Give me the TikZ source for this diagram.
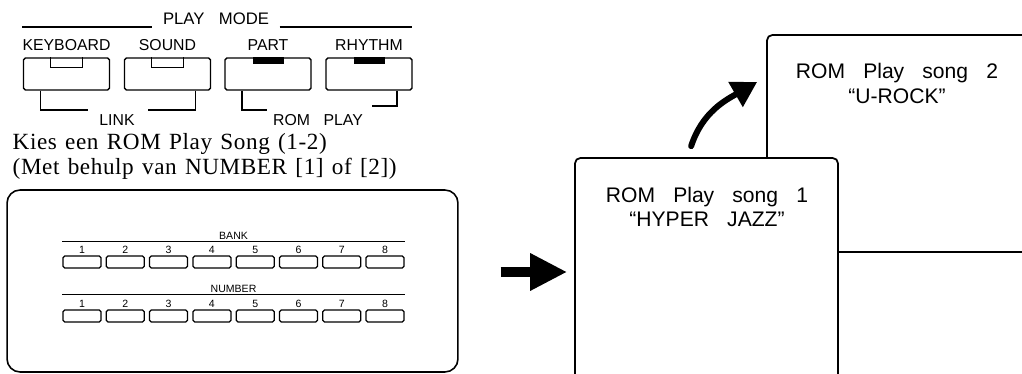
\documentclass[tikz,border=0pt]{standalone}
\usepackage{fontspec}
\setmainfont{Liberation Serif}
\newfontfamily\dutchfont[LetterSpace=2.5,WordSpace=1.3]{Liberation Serif}
\newfontfamily\panelfont[WordSpace=1.15]{Liberation Sans}
\newfontfamily\lcdfont[WordSpace=3.1]{Liberation Sans}
\usetikzlibrary{calc,positioning,arrows.meta}
\tikzset{
  modebtn/.style   = {draw, line width=0.8pt, rounded corners=1pt,
                      minimum width=1.72cm, minimum height=0.64cm,
                      inner sep=0pt, label distance=2pt},
  modelbl/.style   = {font=\panelfont\fontsize{9}{10}\selectfont},
  linklbl/.style   = {font=\panelfont\fontsize{9}{10}\selectfont},
  numbtn/.style    = {draw, line width=0.7pt, rounded corners=1pt,
                      minimum width=0.76cm, minimum height=0.24cm, inner sep=0pt},
  keynum/.style    = {font=\panelfont\fontsize{6}{6}\selectfont, inner sep=0.5pt},
  songbox/.style   = {draw, fill=white, line width=1pt, rounded corners=3pt},
  songtxt/.style   = {font=\lcdfont\fontsize{12}{13.8}\selectfont, align=center},
  dutch/.style     = {font=\dutchfont\fontsize{13.2}{15}\selectfont,
                      anchor=base west, inner sep=0pt},
  bigarrow/.style  = {line width=0.2cm, -{Triangle[length=0.74cm,width=0.7cm]}},
  bendarrow/.style = {line width=0.12cm, line cap=round,
                      -{Triangle[length=0.5cm,width=0.55cm]}}
}

\begin{document}
\begin{tikzpicture}[x=0.02cm, y=-0.02cm, line width=0.8pt]
\useasboundingbox (0,0) rectangle (1022,374);
\clip (0,0) rectangle (1022,374);

% play mode buttons
\node (kbd)  [modebtn, label={[modelbl]above:KEYBOARD}] at (66.5,74) {};
\node (snd)  [modebtn, label={[modelbl]above:SOUND}]    at (167.5,74) {};
\node (part) [modebtn, label={[modelbl]above:PART}]     at (268,74) {};
\node (rhy)  [modebtn, label={[modelbl]above:RHYTHM}]   at (369,74) {};
\foreach \b in {kbd,snd}
  \draw ($(\b.north)+(-16,0)$) -- ++(0,10) -- ++(32,0) -- ++(0,-10);
\foreach \b in {part,rhy}
  \fill ($(\b.north)+(-15,0)$) rectangle ++(31,7);

\node (pm) [modelbl, inner xsep=0.2cm, font=\panelfont\fontsize{9.5}{10}\selectfont] at (216,19) {PLAY MODE};
\coordinate (pmL) at (22,27);
\coordinate (pmR) at (412,27);
\draw (pmL) -- (pm.west |- pmL) (pm.east |- pmR) -- (pmR);

\node (link)    [linklbl] at (117,120) {LINK};
\node (romplay) [linklbl] at (318,120) {ROM PLAY};
\coordinate (lk1) at (88,110);
\coordinate (lk2) at (148,110);
\coordinate (rp1) at (267,110);
\coordinate (rp2) at (372,106);
\draw (kbd.south) ++(-26,0) |- (lk1);
\draw (snd.south) ++(28,0) |- (lk2);
\draw (part.south) ++(-26,0) |- (rp1);
\draw (rhy.south) ++(28,0) |- (rp2);

\node (kies) [dutch] at (12,150) {Kies een ROM Play Song (1-2)};
\node (hulp) [dutch] at (12,175) {(Met behulp van NUMBER [1] of [2])};

% bank / number panel
\node (panel) [draw, line width=0.9pt, rounded corners=0.26cm,
               minimum width=9.02cm, minimum height=3.64cm] at (232.5,281) {};
\foreach \i in {1,...,8} {
  \node (bk\i) [numbtn, label={[keynum]above:\i}] at ({82+43.3*(\i-1)},262) {};
  \node (nr\i) [numbtn, label={[keynum]above:\i}] at ({82+43.3*(\i-1)},316) {};
}
\draw[line width=0.7pt] ($(bk1.north west)+(0,-14)$) -- node (banklbl) [keynum, above] {BANK}
  ($(bk8.north east)+(0,-14)$);
\draw[line width=0.7pt] ($(nr1.north west)+(0,-15)$) -- node (numlbl) [keynum, above] {NUMBER}
  ($(nr8.north east)+(0,-15)$);

% songs
\node (song2) [songbox, minimum width=6.66cm, minimum height=4.34cm] at (933.5,143.5) {};
\node (song1) [songbox, minimum width=5.26cm, minimum height=5.64cm] at (706.5,299) {};
\node (title1) [songtxt] at (707,207) {ROM Play song 1\\“HYPER JAZZ”};
\node (title2) [songtxt] at (897,83.5) {ROM Play song 2\\“U-ROCK”};

\coordinate (mid) at (0,272);
\draw[bigarrow, shorten <=0.84cm, shorten >=0.14cm] (panel.east |- mid) -- (song1.west |- mid);
\draw[bendarrow] ($(song1.north west)+(117,-11)$) to[out=72,in=210] ($(song2.west)+(-9,-61.5)$);
\end{tikzpicture}
\end{document}
